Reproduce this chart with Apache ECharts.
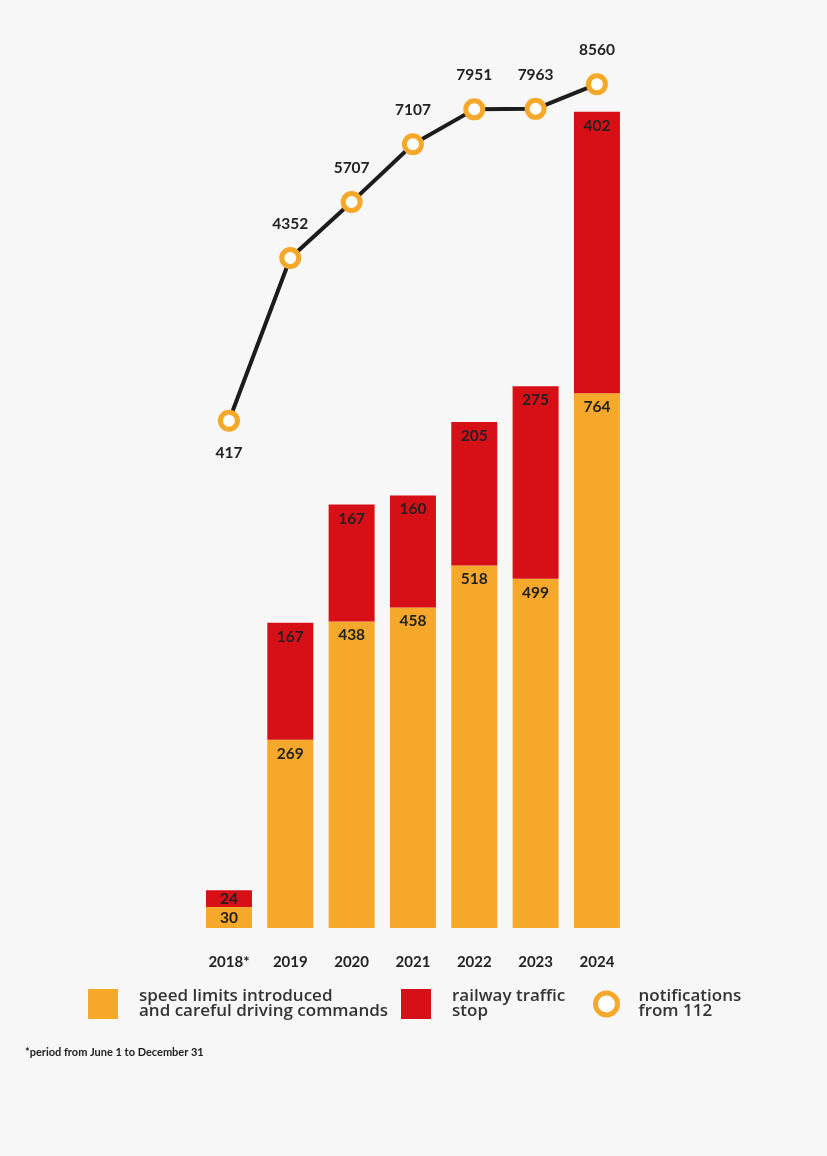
<!DOCTYPE html>
<html>
<head>
<meta charset="utf-8">
<script src="https://cdn.jsdelivr.net/npm/echarts@6/dist/echarts.min.js"></script>
<style>
html,body{margin:0;padding:0;background:#f7f7f7;}
#chart{width:827px;height:1156px;}
</style>
</head>
<body>
<div id="chart"></div>
<script>
const years = ['2018*', '2019', '2020', '2021', '2022', '2023', '2024'];
const speedLimits = [30, 269, 438, 458, 518, 499, 764];
const railwayStop = [24, 167, 167, 160, 205, 275, 402];
const notifications = [417, 4352, 5707, 7107, 7951, 7963, 8560];
const seriesNames = ['speed limits introduced\nand careful driving commands', 'railway traffic\nstop', 'notifications\nfrom 112'];
const footnote = '*period from June 1 to December 31';

const ORANGE = '#F6A82B';
const RED = '#D71017';
const FONT = 'Lato, "Open Sans", sans-serif';
const LEGEND_FONT = '"Open Sans", Lato, sans-serif';

const chart = echarts.init(document.getElementById('chart'));

const barLabel = {
  show: true, position: 'insideTop', distance: 6,
  fontFamily: FONT, fontWeight: 'bold', fontSize: 15.5, color: '#222'
};

function barData(arr) {
  return arr.map((v, i) => i === 0 ? {value: v, label: {position: 'inside'}} : v);
}

const legendText = {fontFamily: LEGEND_FONT, fontSize: 17, fontWeight: 600, color: '#333', lineHeight: 15, padding: [0, 0, 0, 16]};

chart.setOption({
  backgroundColor: '#f7f7f7',
  animation: false,
  grid: [
    {left: 198.3, width: 429.3, top: 18, height: 910},
    {left: 198.3, width: 429.3, top: 24.7, height: 413.2}
  ],
  xAxis: [
    {type: 'category', gridIndex: 0, data: years,
     axisLine: {show: false}, axisTick: {show: false},
     axisLabel: {margin: 27, fontFamily: FONT, fontWeight: 'bold', fontSize: 15, color: '#222'}},
    {type: 'category', gridIndex: 1, data: years, show: false}
  ],
  yAxis: [
    {type: 'value', gridIndex: 0, min: 0, max: 1300, show: false},
    {type: 'value', gridIndex: 1, min: 0, max: 10000, show: false}
  ],
  legend: [
    {left: 88, top: 988, padding: 0, itemWidth: 30, itemHeight: 30, textStyle: legendText,
     data: [{name: seriesNames[0], icon: 'rect'}]},
    {left: 401, top: 988, padding: 0, itemWidth: 30, itemHeight: 30, textStyle: legendText,
     data: [{name: seriesNames[1], icon: 'rect'}]},
    {left: 593, top: 988, padding: 0, itemWidth: 22, itemHeight: 30, textStyle: legendText,
     data: [{name: seriesNames[2], icon: 'circle', itemStyle: {color: '#fff', borderColor: ORANGE, borderWidth: 5}}]}
  ],
  series: [
    {name: seriesNames[0], type: 'bar', stack: 'a', xAxisIndex: 0, yAxisIndex: 0,
     barWidth: 46, itemStyle: {color: ORANGE}, label: barLabel, data: barData(speedLimits)},
    {name: seriesNames[1], type: 'bar', stack: 'a', xAxisIndex: 0, yAxisIndex: 0,
     barWidth: 46, itemStyle: {color: RED}, label: barLabel, data: barData(railwayStop)},
    {name: seriesNames[2], type: 'line', xAxisIndex: 1, yAxisIndex: 1,
     symbol: 'circle', symbolSize: 17,
     lineStyle: {color: '#1c1c1c', width: 4},
     itemStyle: {color: '#fff', borderColor: ORANGE, borderWidth: 5},
     label: {show: true, position: 'top', distance: 15, fontFamily: FONT, fontWeight: 'bold', fontSize: 15.5, color: '#222'},
     data: notifications.map((v, i) => i === 0 ? {value: v, label: {position: 'bottom', distance: 13}} : v),
     z: 5}
  ],
  graphic: [
    {type: 'text', left: 25, top: 1047,
     style: {text: footnote, fontFamily: FONT, fontWeight: 'bold', fontSize: 11, fill: '#222'}}
  ]
});
</script>
</body>
</html>
